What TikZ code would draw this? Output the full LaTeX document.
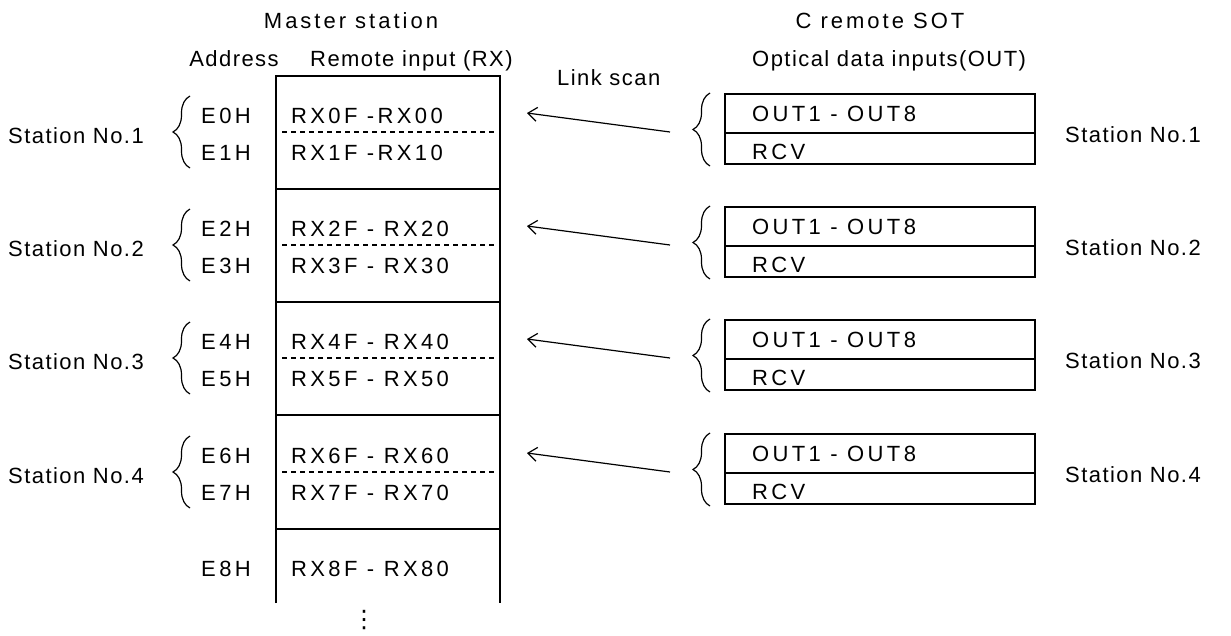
\documentclass[tikz,border=0pt]{standalone}
\usepackage{fontspec}
\setmainfont{Liberation Sans}
\newfontfamily\fLbl[LetterSpace=6.6]{Liberation Sans}
\newfontfamily\fCap[LetterSpace=15.3]{Liberation Sans}
\newfontfamily\fTtl[LetterSpace=13.6]{Liberation Sans}
\newfontfamily\fSym{DejaVu Sans}
\usetikzlibrary{decorations.pathreplacing,arrows.meta}
\tikzset{
  lbl/.style={inner sep=0pt, font=\fLbl\fontsize{22}{26}\selectfont},
  captxt/.style={inner sep=0pt, font=\fCap\fontsize{22}{26}\selectfont},
  ttl/.style={inner sep=0pt, font=\fTtl\fontsize{22}{26}\selectfont},
  boxline/.style={line width=1.8pt},
  sepline/.style={line width=1.2pt, dash pattern=on 5pt off 4pt},
  brc/.style={line width=1.2pt, decorate, decoration={brace, amplitude=17pt}},
  arr/.style={line width=1.2pt, -{Straight Barb[length=9pt,width=14pt]}},
}
\begin{document}
\begin{tikzpicture}[x=1pt,y=-1pt]
\useasboundingbox (0,0) rectangle (1231,635);
\node[ttl, anchor=base] (master) at (351,28) {Master station};
\node[ttl, anchor=base] (csot) at (880,28) {C remote SOT};
\node[lbl, anchor=base] (addr) at (234,66) {Address};
\node[lbl, anchor=base west] (rxhead) at (310,66) {Remote input (RX)};
\node[lbl, anchor=base west] (opt) at (752,66) {Optical data inputs(OUT)};
\node[lbl, anchor=base west] (link) at (557,85) {Link scan};
% master table
\draw[boxline] (276,603) -- (276,76) -- (500,76) -- (500,603);
\foreach \y in {189,302,415,529} \draw[boxline] (276,\y) -- (500,\y);
\foreach \o/\a/\b/\ra/\rb/\n in {0/E0H/E1H/{RX0F -RX00}/{RX1F -RX10}/1,
    113/E2H/E3H/{RX2F - RX20}/{RX3F - RX30}/2,
    226/E4H/E5H/{RX4F - RX40}/{RX5F - RX50}/3,
    340/E6H/E7H/{RX6F - RX60}/{RX7F - RX70}/4}{
  \node[captxt, anchor=base] (ea\n) at (226,123+\o) {\a};
  \node[captxt, anchor=base] (eb\n) at (226,160+\o) {\b};
  \node[captxt, anchor=base west] (ra\n) at (291,123+\o) {\ra};
  \node[captxt, anchor=base west] (rb\n) at (291,160+\o) {\rb};
  \draw[sepline] (282,132+\o) -- (495,132+\o);
  \node[lbl, anchor=base west] (sl\n) at (8,143+\o) {Station No.\n};
  \draw[brc] (190,168+\o) -- (190,96+\o);
  % remote station box
  \draw[boxline] (725,94+\o) rectangle (1035,164+\o);
  \draw[boxline] (725,133+\o) -- (1035,133+\o);
  \node[captxt, anchor=base west] (out\n) at (752,121+\o) {OUT1 - OUT8};
  \node[captxt, anchor=base west] (rcv\n) at (752,159+\o) {RCV};
  \node[lbl, anchor=base west] (sr\n) at (1065,142.5+\o) {Station No.\n};
  \draw[brc] (710,166+\o) -- (710,93+\o);
  \coordinate (tail\n) at (670,132+\o);
  \coordinate (head\n) at (527,113+\o);
  \draw[arr] (tail\n) -- (head\n);
}
\node[captxt, anchor=base] (ea5) at (226,576) {E8H};
\node[captxt, anchor=base west] (ra5) at (291,576) {RX8F - RX80};
\node[inner sep=0pt, font=\fSym\fontsize{24}{28}\selectfont] (dots) at (364,620) {⋮};
\end{tikzpicture}
\end{document}
